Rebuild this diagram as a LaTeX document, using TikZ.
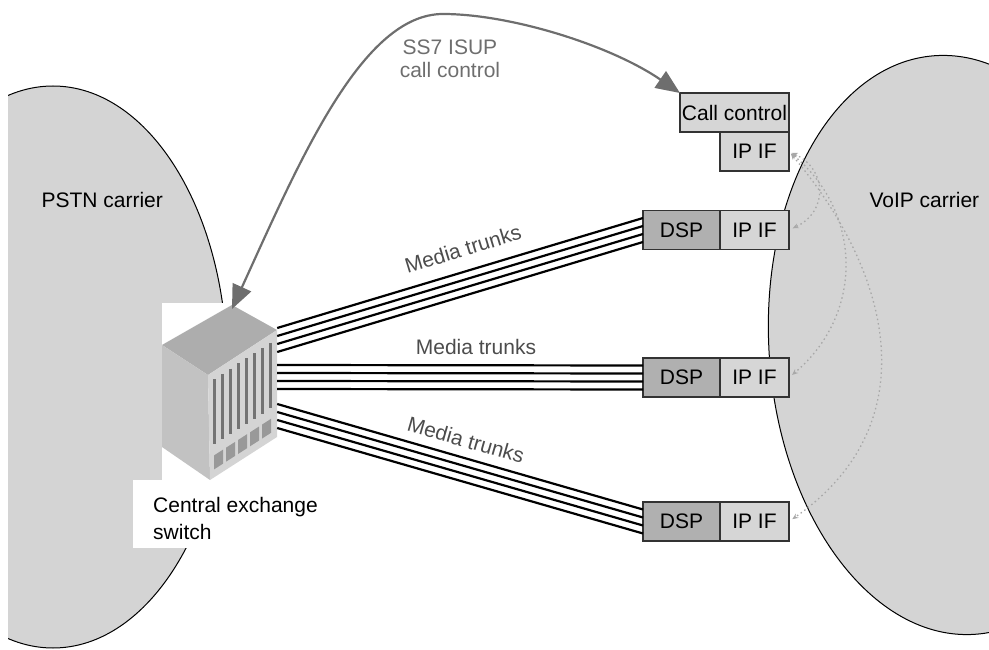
\documentclass[tikz,border=0pt]{standalone}
\usepackage{fontspec}
\setmainfont{Liberation Sans}
\usetikzlibrary{arrows.meta,positioning}

\definecolor{cloudgray}{HTML}{D4D4D4}
\definecolor{dspgray}{HTML}{B0B0B0}
\definecolor{ifgray}{HTML}{D6D6D6}
\definecolor{sigray}{HTML}{6E6E6E}
\definecolor{dotgray}{HTML}{A8A8A8}

\tikzset{
    txt/.style={font=\fontsize{21}{25}\selectfont},
    unitbox/.style={txt, draw=black!80, line width=1.2pt, minimum height=39pt, inner sep=0pt, outer sep=0pt},
    dspbox/.style={unitbox, fill=dspgray, minimum width=77pt},
    ifbox/.style={unitbox, fill=ifgray, minimum width=69pt},
    trunk/.style={line width=2.2pt},
    signal/.style={draw=sigray, line width=2.2pt, {Triangle[length=24pt,width=20pt]}-{Triangle[length=24pt,width=20pt]}},
    rtp/.style={dotgray, line width=1.3pt, dash pattern=on 1.5pt off 3pt, {Stealth[length=6pt,width=5pt]}-{Stealth[length=6pt,width=5pt]}},
}

\begin{document}
\begin{tikzpicture}[x=1pt, y=1pt]
    \useasboundingbox (0,0) rectangle (989,649);

    % the two carrier networks
    \begin{scope}
        \clip (8,0) rectangle (989,649);
        \draw[fill=cloudgray, line width=1pt] (53,282) ellipse [x radius=174pt, y radius=281pt];
        \draw[fill=cloudgray, line width=1pt, rotate around={4:(955,304)}] (955,304) ellipse [x radius=186pt, y radius=290pt];
    \end{scope}
    \node[txt, anchor=base west] (pstn) at (38,441) {PSTN carrier};
    \node[txt, anchor=base west] (voip) at (866,441) {VoIP carrier};

    % exchange switch
    \node[fill=white, minimum width=115pt, minimum height=177pt, inner sep=0pt] (switch) at (219.5,257.5) {};
    \fill[black!32] (162,304) -- (232,344) -- (277,319) -- (208,274) -- cycle;
    \fill[black!24] (162,304) -- (208,274) -- (210,169) -- (162,202) -- cycle;
    \fill[black!17] (208,274) -- (277,319) -- (277,212) -- (210,169) -- cycle;
    \foreach \x in {214,222,...,270}{
        \draw[black!55, line width=3pt] (\x,{274+0.652*(\x-208)-8}) -- (\x,{169+0.642*(\x-210)+33});
    }
    \foreach \x in {214,226,...,262}{
        \fill[black!40] (\x,{169+0.642*(\x-210)+8}) -- (\x+9,{169+0.642*(\x-201)+8})
            -- (\x+9,{169+0.642*(\x-201)+22}) -- (\x,{169+0.642*(\x-210)+22}) -- cycle;
    }
    \fill[white] (133,101) rectangle (325,169);
    \node[font=\fontsize{21}{27}\selectfont, align=left, anchor=north west, inner sep=0pt] (switchlabel) at (153,151.5) {Central exchange\\switch};

    % gateway units
    \node[unitbox, fill=ifgray, minimum width=109pt] (cc) at (734.5,536.5) {Call control};
    \node[ifbox, below=0pt of cc.south east, anchor=north east] (ipcc) {IP IF};

    \node[dspbox] (dsptop) at (681.5,419) {DSP};
    \node[ifbox, right=0pt of dsptop] (iptop) {IP IF};
    \node[dspbox] (dspmid) at (681.5,271.5) {DSP};
    \node[ifbox, right=0pt of dspmid] (ipmid) {IP IF};
    \node[dspbox] (dspbot) at (681.5,127.5) {DSP};
    \node[ifbox, right=0pt of dspbot] (ipbot) {IP IF};

    % media trunks
    \foreach \d in {-12,-4,4,12}{
        \draw[trunk] ([yshift={(51.5+\d)*1pt}]switch.east) -- ([yshift={\d*1pt}]dsptop.west);
        \draw[trunk] ([yshift={(14.5+\d)*1pt}]switch.east) -- ([yshift={\d*1pt}]dspmid.west);
        \draw[trunk] ([yshift={(-24.5+\d)*1pt}]switch.east) -- ([yshift={\d*1pt}]dspbot.west);
    }
    \node[txt, text=black!70, rotate=17] (mtop) at (463,400) {Media trunks};
    \node[txt, text=black!70] (mmid) at (476,302) {Media trunks};
    \node[txt, text=black!70, rotate=-16] (mbot) at (466,209) {Media trunks};

    % signalling
    \coordinate (cubetop) at (232,340);
    \node[font=\fontsize{21}{23}\selectfont, text=sigray, align=center] (ss7) at (450,590.5) {SS7 ISUP\\call control};
    \draw[signal] (cubetop) .. controls (300,489) and (362,635) .. (443,635)
        .. controls (510,635) and (610,604) .. (cc.north west);

    % internal IP links
    \draw[rtp, shorten <=3pt, shorten >=4pt] (ipcc.east) to[out=-25, in=25, looseness=1.4] (iptop.east);
    \draw[rtp, shorten <=3pt, shorten >=4pt] (ipcc.east) to[out=-40, in=40, looseness=1.1] (ipmid.east);
    \draw[rtp, shorten <=3pt, shorten >=4pt] (ipcc.east) to[out=-50, in=35, looseness=1.15] (ipbot.east);
\end{tikzpicture}
\end{document}
